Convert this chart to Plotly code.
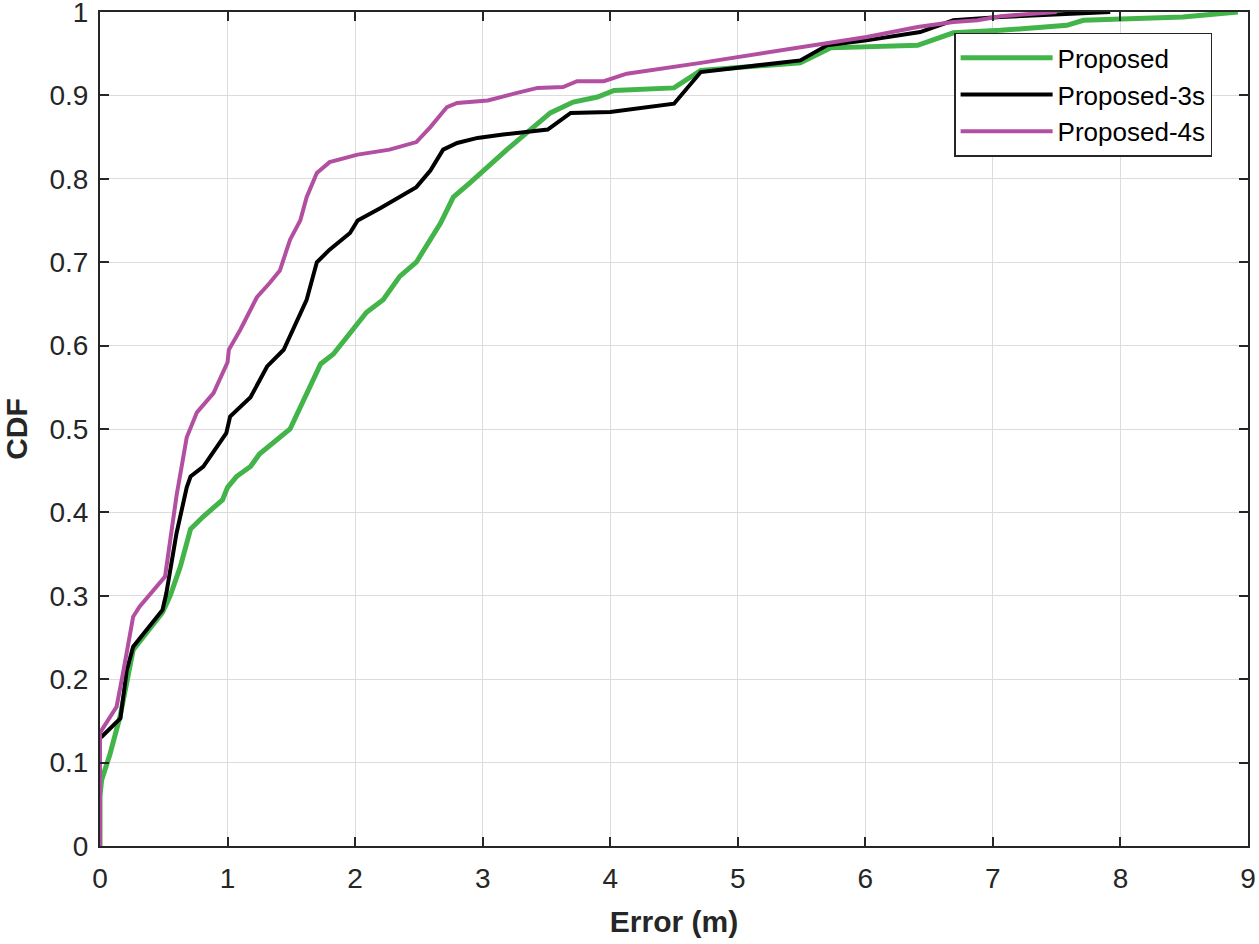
import plotly.graph_objects as go

# Proposed
err_p = [0, 0, 0.013, 0.078, 0.157, 0.26, 0.49, 0.55, 0.63, 0.71, 0.81, 0.96, 1.0, 1.07, 1.18, 1.25, 1.49, 1.55,
         1.62, 1.73, 1.83, 2.02, 2.09, 2.22, 2.35, 2.48, 2.67, 2.77, 2.90, 3.19, 3.37, 3.53, 3.71, 3.90, 4.03,
         4.50, 4.71, 5.49, 5.73, 6.41, 6.69, 7.06, 7.58, 7.71, 8.49, 8.92]
cdf_p = [0, 0.06, 0.079, 0.11, 0.155, 0.235, 0.28, 0.30, 0.335, 0.38, 0.395, 0.415, 0.43, 0.443, 0.455, 0.47, 0.50, 0.52,
         0.54, 0.578, 0.59, 0.625, 0.64, 0.655, 0.683, 0.70, 0.747, 0.778, 0.795, 0.835, 0.858, 0.879, 0.892, 0.898, 0.906,
         0.909, 0.930, 0.939, 0.957, 0.960, 0.975, 0.978, 0.984, 0.990, 0.994, 1.0]

# Proposed-3s
err_3 = [0, 0, 0.013, 0.16, 0.21, 0.26, 0.49, 0.52, 0.60, 0.68, 0.71, 0.81, 0.99, 1.02, 1.18, 1.31, 1.44, 1.54,
         1.62, 1.70, 1.80, 1.96, 2.02, 2.20, 2.35, 2.48, 2.59, 2.69, 2.80, 2.96, 3.16, 3.51, 3.69, 4.00, 4.50,
         4.71, 5.49, 5.70, 6.01, 6.43, 6.69, 7.06, 7.92]
cdf_3 = [0, 0.13, 0.131, 0.153, 0.211, 0.239, 0.283, 0.303, 0.375, 0.43, 0.443, 0.455, 0.495, 0.515, 0.538, 0.575, 0.595, 0.627,
         0.655, 0.70, 0.715, 0.735, 0.75, 0.765, 0.778, 0.79, 0.81, 0.835, 0.843, 0.849, 0.853, 0.859, 0.879, 0.880, 0.89,
         0.928, 0.942, 0.960, 0.966, 0.976, 0.99, 0.994, 1.0]

# Proposed-4s
err_4 = [0, 0, 0.013, 0.13, 0.18, 0.26, 0.31, 0.47, 0.51, 0.60, 0.68, 0.76, 0.89, 1.0, 1.01, 1.10, 1.23, 1.33, 1.41,
         1.49, 1.57, 1.62, 1.70, 1.80, 2.02, 2.27, 2.48, 2.59, 2.72, 2.80, 3.04, 3.27, 3.43, 3.63, 3.74, 3.95,
         4.13, 4.71, 4.84, 5.49, 6.01, 6.41, 6.69, 6.88, 7.06, 7.50]
cdf_4 = [0, 0.135, 0.139, 0.167, 0.207, 0.275, 0.287, 0.315, 0.323, 0.42, 0.49, 0.52, 0.543, 0.58, 0.595, 0.619, 0.658, 0.675, 0.69,
         0.727, 0.75, 0.778, 0.807, 0.82, 0.829, 0.835, 0.844, 0.862, 0.886, 0.891, 0.894, 0.903, 0.909, 0.910, 0.917, 0.917,
         0.926, 0.939, 0.942, 0.958, 0.970, 0.982, 0.988, 0.99, 0.995, 1.0]

x_ticks = [0, 1, 2, 3, 4, 5, 6, 7, 8, 9]
y_ticks = [0, 0.1, 0.2, 0.3, 0.4, 0.5, 0.6, 0.7, 0.8, 0.9, 1]
y_tick_text = ["0", "0.1", "0.2", "0.3", "0.4", "0.5", "0.6", "0.7", "0.8", "0.9", "1"]

FONT = "Liberation Sans, Arial, Helvetica, sans-serif"

fig = go.Figure()
fig.add_trace(go.Scatter(x=err_p, y=cdf_p, mode="lines", name="Proposed",
                         line=dict(color="#42b449", width=5)))
fig.add_trace(go.Scatter(x=err_3, y=cdf_3, mode="lines", name="Proposed-3s",
                         line=dict(color="#000000", width=4)))
fig.add_trace(go.Scatter(x=err_4, y=cdf_4, mode="lines", name="Proposed-4s",
                         line=dict(color="#b24fa0", width=4)))

axis_common = dict(showline=True, linecolor="#262626", linewidth=2, mirror="ticks",
                   ticks="inside", ticklen=9, tickwidth=1.5, tickcolor="#262626",
                   showgrid=True, gridcolor="#dcdcdc", gridwidth=1, zeroline=False,
                   automargin=False, ticklabeloverflow="allow",
                   tickfont=dict(family=FONT, size=28, color="#262626"))

fig.update_layout(
    width=1259, height=944,
    margin=dict(l=100, r=11, t=12, b=98),
    paper_bgcolor="white", plot_bgcolor="white",
    xaxis=dict(range=[0, 9], tickvals=x_ticks, ticklabelstandoff=6,
               title=dict(text="<b>Error (m)</b>", standoff=18,
                          font=dict(family=FONT, size=30, color="#262626")),
               **axis_common),
    yaxis=dict(range=[0, 1], tickvals=y_ticks, ticktext=y_tick_text, ticklabelstandoff=4,
               title=dict(text="<b>CDF</b>", standoff=27,
                          font=dict(family=FONT, size=30, color="#262626")),
               **axis_common),
    legend=dict(x=0.744, y=0.975, xanchor="left", yanchor="top",
                bgcolor="white", bordercolor="#262626", borderwidth=1.5,
                font=dict(family=FONT, size=26, color="#000000"),
                itemwidth=92, tracegroupgap=0),
    showlegend=True,
)

fig.write_html("out.html", config={"displayModeBar": False},
               post_script="document.body.style.margin='0';document.body.style.overflow='hidden';")
